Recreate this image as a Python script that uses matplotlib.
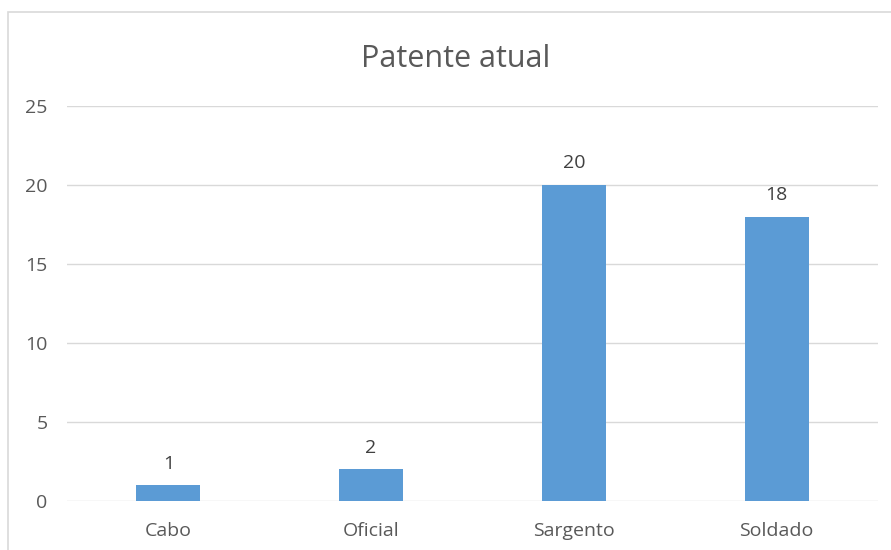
import matplotlib.pyplot as plt
from matplotlib.patches import Rectangle

categorias = ['Cabo', 'Oficial', 'Sargento', 'Soldado']
valores = [1, 2, 20, 18]
yticks = [0, 5, 10, 15, 20, 25]

plt.rcParams['font.family'] = ['Open Sans', 'DejaVu Sans']
cinza = '#595959'

fig = plt.figure(figsize=(8.91, 5.5), dpi=100)
ax = fig.add_axes([67 / 891, 49 / 550, 811 / 891, 395 / 550])

# moldura do grafico (estilo excel)
fig.patches.append(Rectangle((8 / 891, -0.1), 1.2, 1.1 - 12 / 550,
                             transform=fig.transFigure, fill=False,
                             edgecolor='#D9D9D9', linewidth=1.2))

x = range(len(categorias))
barras = ax.bar(x, valores, width=0.315, color='#5B9BD5', zorder=3)
for b, v in zip(barras, valores):
    ax.annotate(str(v), (b.get_x() + b.get_width() / 2, v), xytext=(0, 9),
                textcoords='offset points', ha='center', va='bottom',
                fontsize=14, color='#404040')

ax.set_xlim(-0.5, len(categorias) - 0.5)
ax.set_ylim(0, 25)
ax.set_yticks(yticks)
ax.set_xticks(list(x))
ax.set_xticklabels(categorias)
ax.grid(axis='y', color='#D9D9D9', linewidth=1, zorder=0)
for s in ax.spines.values():
    s.set_visible(False)
ax.tick_params(axis='both', length=0, labelsize=14, labelcolor=cinza)
ax.tick_params(axis='x', pad=15)
ax.tick_params(axis='y', pad=14)
# titulo centrado na area do grafico, nao no eixo
ax.set_title('Patente atual', fontsize=22, color=cinza, pad=28, x=(456 - 67) / 811)

fig.savefig('out.png', dpi=100)
